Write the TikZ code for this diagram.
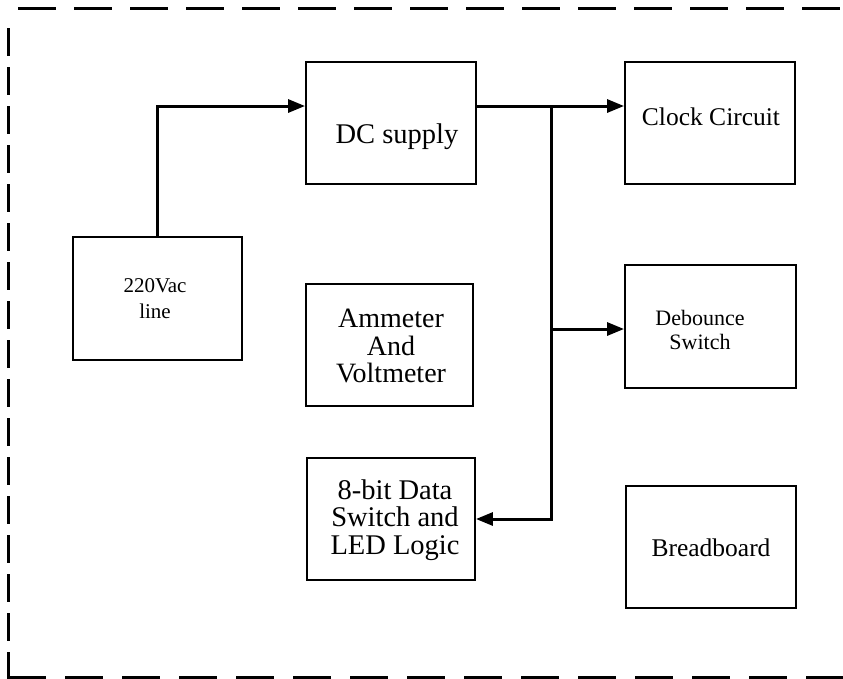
\documentclass[tikz,border=0pt]{standalone}
\usepackage{fontspec}
\setmainfont{Liberation Serif}
\usetikzlibrary{arrows.meta}
\begin{document}
\begin{tikzpicture}[x=1pt,y=-1pt,
  blk/.style={draw, line width=1.9pt, rectangle, inner sep=0pt, minimum width=170pt, minimum height=122pt},
  conn/.style={line width=3pt, -{Triangle[length=17pt,width=13pt]}},
  frame/.style={line width=3pt},
  lbl/.style={inner sep=0pt, align=center}]
\useasboundingbox (0,0) rectangle (843,678);
% frame
\coordinate (ftl) at (18,8);
\coordinate (ftr) at (843,8);
\coordinate (fl1) at (8,28);
\coordinate (fl2) at (8,690);
\coordinate (fb1) at (8,677);
\coordinate (fb2) at (843,677);
\draw[frame, dash pattern=on 38pt off 18pt] (ftl) -- (ftr);
\draw[frame, dash pattern=on 28pt off 11pt] (fl1) -- (fl2);
\draw[frame, dash pattern=on 38pt off 19pt] (fb1) -- (fb2);
% boxes
\node[blk] (dc)  at (391,123) {};
\node[blk] (clk) at (710,123) {};
\node[blk, minimum width=169pt, minimum height=123pt] (ac) at (157.5,298.5) {};
\node[blk, minimum width=167pt] (amm) at (389.5,345) {};
\node[blk, minimum width=171pt, minimum height=123pt] (deb) at (710.5,326.5) {};
\node[blk, minimum width=168pt] (bit) at (391,519) {};
\node[blk] (brd) at (711,547) {};
% texts
\node[lbl, anchor=base, font=\fontsize{28.5}{30}\selectfont] (tdc) at (397,143) {DC supply};
\node[lbl, anchor=base, font=\fontsize{25.5}{28}\selectfont] (tclk) at (711,125) {Clock Circuit};
\node[lbl, font=\fontsize{21}{26}\selectfont] (tac) at (155,299) {220Vac\\line};
\node[lbl, font=\fontsize{28}{27.5}\selectfont] (tamm) at (391,346) {Ammeter\\And\\Voltmeter};
\node[lbl, font=\fontsize{22}{23.5}\selectfont] (tdeb) at (700,330) {Debounce\\Switch};
\node[lbl, font=\fontsize{28.5}{27.5}\selectfont] (tbit) at (395,520) {8-bit Data\\Switch and\\LED Logic};
\node[lbl, anchor=base, font=\fontsize{25.5}{28}\selectfont] (tbrd) at (711,556) {Breadboard};
% connectors
\coordinate (j) at (551,106);
\draw[conn] (ac.north) |- ([yshift=17pt]dc.west);
\draw[conn] ([yshift=17pt]dc.east) -- ([yshift=17pt]clk.west);
\draw[conn] (j) |- (bit.east);
\draw[conn] (j |- deb.west) ++(0,2.5) -- ([yshift=-2.5pt]deb.west);
\end{tikzpicture}
\end{document}
